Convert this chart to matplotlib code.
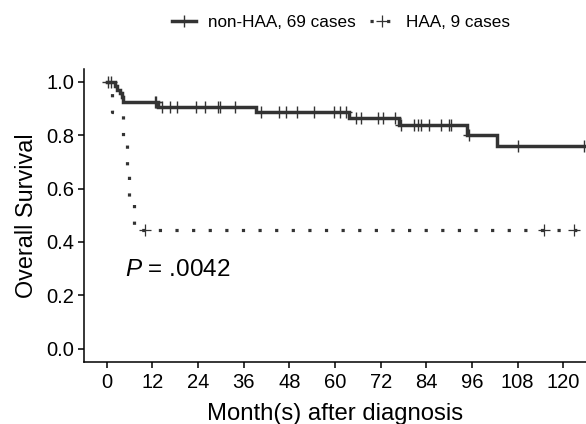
import numpy as np
import matplotlib
matplotlib.use('Agg')
import matplotlib.pyplot as plt
from matplotlib.lines import Line2D

plt.rcParams['font.family'] = ['Liberation Sans', 'DejaVu Sans']
plt.rcParams['mathtext.fontset'] = 'custom'
plt.rcParams['mathtext.it'] = 'Liberation Sans:italic'
plt.rcParams['mathtext.rm'] = 'Liberation Sans'

# Kaplan-Meier steps (months, survival)
non_haa_times = [0, 2.2, 2.8, 3.4, 3.9, 4.3, 13.5, 39.3, 63.8, 76.9, 94.8, 102.6, 125.5]
non_haa_surv = [1.0, 0.986, 0.971, 0.957, 0.942, 0.924, 0.907, 0.889, 0.864, 0.839, 0.801, 0.760, 0.760]
non_haa_censor = [0.4, 1.2, 12.6, 13.0, 14.4, 16.7, 18.5, 23.5, 25.9, 29.2, 29.8, 33.6,
                  40.6, 45.4, 47.2, 50.1, 54.6, 59.8, 61.2, 62.9, 65.6, 66.9, 71.3, 72.6,
                  75.8, 77.4, 80.9, 81.8, 82.6, 84.8, 87.9, 90.0, 90.5, 95.2, 108.2, 125.5]

haa_times = [0, 1.3, 4.3, 5.2, 5.8, 7.2, 124.5]
haa_surv = [1.0, 0.889, 0.778, 0.667, 0.556, 0.444, 0.444]
haa_censor = [10.0, 115.0, 122.9]

labels = ['non-HAA, 69 cases', 'HAA, 9 cases']
x_ticks = [0, 12, 24, 36, 48, 60, 72, 84, 96, 108, 120]
y_ticks = [0.0, 0.2, 0.4, 0.6, 0.8, 1.0]
p_text = '.0042'

col = '#333333'


def surv_at(times, surv, t):
    idx = np.searchsorted(times, t, side='right') - 1
    return np.array(surv)[idx]


fig = plt.figure(figsize=(5.86, 4.24), dpi=100)
ax = fig.add_axes([0.1433, 0.1462, 0.8567, 0.692])

ax.step(non_haa_times, non_haa_surv, where='post', color=col, lw=2.5, solid_joinstyle='miter')
ax.plot(non_haa_censor, surv_at(non_haa_times, non_haa_surv, non_haa_censor),
        ls='none', marker='+', ms=9, mew=1.0, color=col)

ax.step(haa_times, haa_surv, where='post', color=col, lw=2.3, ls=(0, (1, 4.2)),
        dash_capstyle='butt')
ax.plot(haa_censor, surv_at(haa_times, haa_surv, haa_censor),
        ls='none', marker='+', ms=9, mew=0.9, color=col)

ax.text(4.8, 0.271, '$P$ = ' + p_text, fontsize=17.5, color='black', va='baseline')

ax.set_xlim(-6, 126)
ax.set_ylim(-0.05, 1.05)
ax.set_xticks(x_ticks)
ax.set_yticks(y_ticks)
ax.set_yticklabels(['%.1f' % v for v in y_ticks])
for s in ['top', 'right']:
    ax.spines[s].set_visible(False)
for s in ['left', 'bottom']:
    ax.spines[s].set_linewidth(1.1)
ax.tick_params(labelsize=14.5, length=4, width=1.1, colors='black')
ax.tick_params(axis='x', pad=4)
ax.tick_params(axis='y', pad=3)
ax.set_xlabel('Month(s) after diagnosis', fontsize=17.2, labelpad=8)
ax.set_ylabel('Overall Survival', fontsize=16.8, labelpad=6)

handles = [Line2D([], [], color=col, lw=2.5, marker='+', ms=9, mew=1.0),
           Line2D([], [], color=col, lw=2.3, ls=(0, (1, 4.2)), marker='+', ms=9, mew=0.9)]
fig.legend(handles, labels, loc='center', bbox_to_anchor=(0.582, 0.946), ncol=2,
           frameon=False, fontsize=12.3, handlelength=1.4, columnspacing=0.8, handletextpad=0.7)

fig.savefig('out.png', dpi=100)
